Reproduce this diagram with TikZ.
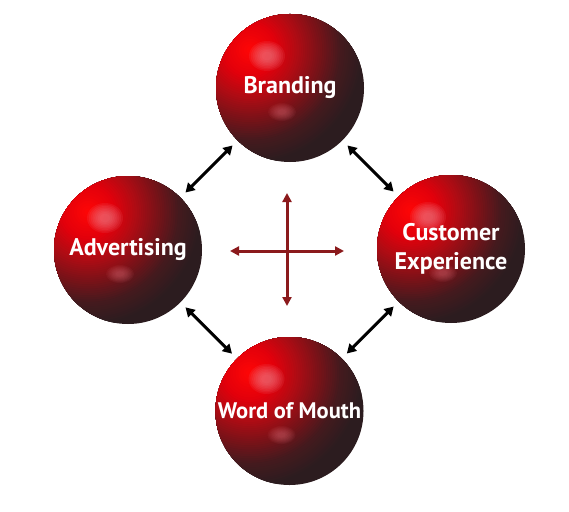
\documentclass[tikz,border=0pt]{standalone}
\usepackage{fontspec}
\setmainfont{PT Sans}
\usetikzlibrary{arrows.meta,calc}
\definecolor{crossred}{HTML}{8B1A1C}
\definecolor{sA}{HTML}{FF0606}
\definecolor{sB}{HTML}{E3000B}
\definecolor{sC}{HTML}{AE0C14}
\definecolor{sD}{HTML}{7A1218}
\definecolor{sE}{HTML}{441A1E}
\definecolor{sF}{HTML}{2C1C1F}
\definecolor{blobpink}{HTML}{EE7C88}
\newcommand{\softblob}[4]{% center, x radius, y radius, opacity step
  \foreach \k in {1,...,8}{%
    \fill[blobpink, opacity=#4] (#1) ellipse ({#2*(1.1-\k*0.1)} and {#3*(1.1-\k*0.1)});
  }}
\newcommand{\spheregrad}[1]{% center of the bright spot
  \foreach \ra/\rb/\ca/\cb in {114/92/sF/sE, 92/70/sE/sD, 70/49/sD/sC, 49/27/sC/sB, 27/1/sB/sA}{%
    \foreach \j in {0,...,9}{%
      \pgfmathsetmacro\rr{\ra-(\ra-\rb)*\j/10}%
      \pgfmathsetmacro\pp{10*\j}%
      \fill[\cb!\pp!\ca] (#1) circle (\rr pt);
    }}}
\tikzset{
  sphere/.style={circle, minimum size=148pt, inner sep=0pt, fill=sF,
    text=white, font=\fontsize{24}{29}\selectfont\bfseries, align=center,
    path picture={
      \coordinate (pc) at (path picture bounding box.center);
      \coordinate (hl) at ($(pc)+(-40,-38)$);
      \spheregrad{hl}
      \softblob{$(pc)+(-23,-32)$}{18pt}{15pt}{0.12}
      \softblob{$(pc)+(-8,24)$}{14pt}{9pt}{0.06}
    }},
  link/.style={{Triangle[length=9pt,width=10pt]}-{Triangle[length=9pt,width=10pt]}, line width=3pt, black, shorten <=7pt, shorten >=7pt},
  crossarrow/.style={-{Triangle[length=9pt,width=9pt]}, line width=3pt, crossred}
}
\begin{document}
\begin{tikzpicture}[x=1pt,y=-1pt]
\useasboundingbox (0,0) rectangle (569,511);
\node[sphere] (brand) at (290,88) {Branding};
\node[sphere] (adv) at (128,250) {Advertising};
\node[sphere] (cust) at (451,249) {Customer\\Experience};
\node[sphere, font=\fontsize{22.5}{27}\selectfont\bfseries] (wom) at (289.5,411) {Word of Mouth};
\draw[link] (adv) -- (brand);
\draw[link] (brand) -- (cust);
\draw[link] (adv) -- (wom);
\draw[link] (cust) -- (wom);
\coordinate (cc) at (287,251);
\coordinate (ctop) at (287,193);
\coordinate (cbot) at (287,306);
\coordinate (cleft) at (230,251);
\coordinate (cright) at (344,251);
\draw[crossarrow] (cc) -- (ctop);
\draw[crossarrow] (cc) -- (cbot);
\draw[crossarrow] (cc) -- (cleft);
\draw[crossarrow] (cc) -- (cright);
\end{tikzpicture}
\end{document}
